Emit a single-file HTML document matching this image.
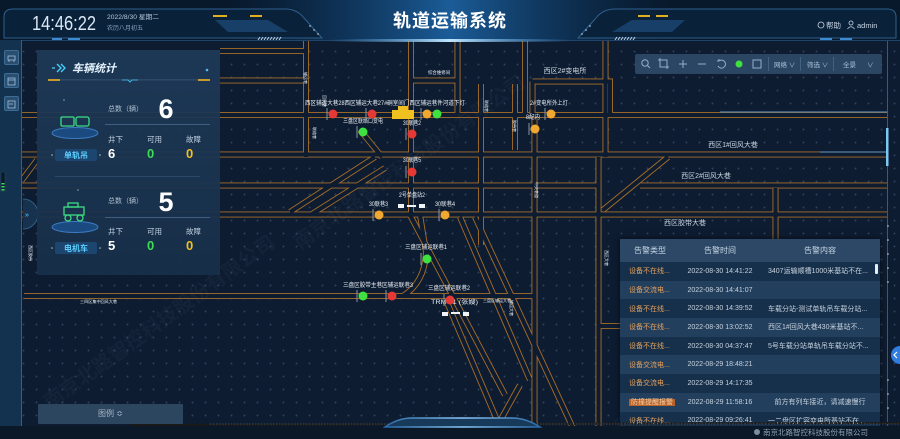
<!DOCTYPE html>
<html><head><meta charset="utf-8">
<style>
*{margin:0;padding:0;box-sizing:border-box}
html,body{width:900px;height:439px;overflow:hidden;background:#0c1b2f}
body{position:relative;font-family:"Liberation Sans","Noto Sans CJK SC",sans-serif;color:#fff}
.abs{position:absolute}
#map{left:0;top:0;width:900px;height:439px;background-color:#0d1c31;background-image:radial-gradient(circle,rgba(110,140,170,.35) .7px,transparent 1.2px);background-size:13px 13px;background-position:4px 6px}
#side{left:0;top:40px;width:22px;height:399px;background:#12324f;border-right:1px solid #2f6090}
.sb{position:absolute;left:4px;width:15px;height:15px;background:#2b4d6e;border:1px solid #3d6c94;border-radius:2px}
#panel{left:37px;top:50px;width:183px;height:225px;background:linear-gradient(180deg,rgba(30,58,88,.93),rgba(23,47,73,.93))}
#tb{left:635px;top:54px;width:247px;height:20px;background:rgba(48,78,108,.85);border-radius:2px}
#tbl{left:620px;top:239px;width:260px;height:187px;overflow:hidden;background:#16304c;box-shadow:0 0 6px rgba(0,0,0,.6)}
#tbl table{border-collapse:collapse;width:260px;table-layout:fixed}
#tbl th{height:23px;background:#2c4866;color:#c9d8e8;font-size:8px;font-weight:normal}
#tbl td{height:18.7px;font-size:7px;color:#c8d2dc;white-space:nowrap;overflow:hidden}
#tbl tr.l td{background:#223f5e}
#tbl tr.d td{background:#16304c}
#tbl td.c1{color:#e8a25c;padding-left:9px}
#tbl td.c2{text-align:center}
#tbl td.c3{padding-left:8px}
#legend{left:38px;top:404px;width:145px;height:20px;background:#2b465e;color:#a8b8c8;font-size:8px;text-align:center;line-height:20px;border-radius:1px}
</style></head>
<body>
<div id="map" class="abs"></div>

<!-- roads -->
<svg class="abs" style="left:0;top:0" width="900" height="439">
<defs>
<g id="rd" fill="none">
<path d="M22,115H887"/>
<path d="M22,154.5H887"/>
<path d="M22,185.5H600M640,185.5H887"/>
<path d="M22,214.5H887"/>
<path d="M24,296H533"/>
<path d="M220,51H306"/>
<path d="M220,80.5H306"/>
<path d="M411,80.5H457.5"/>
<path d="M532.5,81.5H610V115M532.5,81.5V115"/>
<path d="M306,40V157"/>
<path d="M411,40V215"/>
<path d="M457.5,40V115"/>
<path d="M481,84V245"/>
<path d="M515,84V150"/>
<path d="M525,40V115"/>
<path d="M534.5,118V439"/>
<path d="M605.5,40V157"/>
<path d="M598.5,157V439"/>
<path d="M775.5,188V240"/>
<path d="M603,210L668,157"/>
<path d="M375,157L290,212"/>
<path d="M385,168L312,214"/>
<path d="M360,130L382,157"/>
<path d="M420,215L426,252Q425,282 403,296"/>
<path d="M410,215L505,395"/>
<path d="M460,217L530,380"/>
<path d="M475,217L578,439"/>
<path d="M446,300L505,439"/>
<path d="M520,385L490,439"/>
<path d="M598,326H620"/>
<path d="M22,180L37,160"/>
</g>
</defs>
<use href="#rd" stroke="#a96e28" stroke-width="6"/>
<use href="#rd" stroke="#0d1c31" stroke-width="4.2"/>
<path d="M720,112H887M820,152H887" stroke="#6a9ac0" stroke-width="1"/>
<line x1="887.5" y1="40" x2="887.5" y2="439" stroke="#3a5a78" stroke-width="1"/>
<rect x="886" y="128" width="2.5" height="38" fill="#7cc8f0"/>
<g fill="#c8d6e4"><circle cx="888" cy="226" r=".8"/><circle cx="888" cy="240" r=".8"/><circle cx="888" cy="254" r=".8"/><circle cx="888" cy="268" r=".8"/><circle cx="888" cy="282" r=".8"/><circle cx="888" cy="380" r=".8"/><circle cx="888" cy="394" r=".8"/><circle cx="888" cy="408" r=".8"/></g>

<!-- watermarks -->
<g fill="rgba(150,170,195,0.05)" font-size="20" font-weight="bold" font-family="Liberation Sans,Noto Sans CJK SC,sans-serif">
<text x="50" y="410" transform="rotate(-36 50 410)">南京北路智控科技股份有限公司</text>
<text x="300" y="250" transform="rotate(-36 300 250)">南京北路智控科技股份有限公司</text>
<text x="620" y="435" transform="rotate(-30 620 435)">南京北路智控科技股份有限公司</text>
</g>

<!-- map labels -->
<g fill="#e8eef5" font-family="Liberation Sans,Noto Sans CJK SC,sans-serif" font-size="6">
<text x="565" y="73" text-anchor="middle" font-size="7" fill="#d0dae4">西区2#变电所</text>
<text x="428" y="74" font-size="4.5" textLength="22" lengthAdjust="spacingAndGlyphs">综合维修间</text>
<text x="305" y="105" textLength="160" lengthAdjust="spacingAndGlyphs">西区辅运大巷28西区辅运大巷27#硐室间门西区辅运巷件河道下灯</text>
<text x="530" y="105" textLength="38" lengthAdjust="spacingAndGlyphs">2#变电所外上灯</text>
<text x="343" y="123" textLength="40" lengthAdjust="spacingAndGlyphs">三盘区联络口变电</text>
<text x="403" y="125" textLength="18" lengthAdjust="spacingAndGlyphs">30联巷2</text>
<text x="526" y="119" textLength="14" lengthAdjust="spacingAndGlyphs">8配内</text>
<text x="403" y="162" textLength="18" lengthAdjust="spacingAndGlyphs">30联巷5</text>
<text x="399" y="197" textLength="26" lengthAdjust="spacingAndGlyphs">2号单盘站2</text>
<text x="369" y="206" textLength="19" lengthAdjust="spacingAndGlyphs">30联巷3</text>
<text x="435" y="206" textLength="20" lengthAdjust="spacingAndGlyphs">30联巷4</text>
<text x="405" y="249" textLength="42" lengthAdjust="spacingAndGlyphs">三盘区辅运联巷1</text>
<text x="343" y="287" textLength="70" lengthAdjust="spacingAndGlyphs">三盘区胶带主巷区辅运联巷3</text>
<text x="428" y="290" textLength="42" lengthAdjust="spacingAndGlyphs">三盘区辅运联巷2</text>
<text x="431" y="304" textLength="47" lengthAdjust="spacingAndGlyphs">TRM4.1   (张嫂)</text>
<text x="483" y="302" font-size="4" textLength="28" lengthAdjust="spacingAndGlyphs">三盘区辅运大巷</text>
<text x="80" y="303" font-size="4" textLength="37" lengthAdjust="spacingAndGlyphs">三四区集中回风大巷</text>
<text x="733" y="147" text-anchor="middle" font-size="7" fill="#c8d4e0">西区1#回风大巷</text>
<text x="706" y="178" text-anchor="middle" font-size="7" fill="#c8d4e0">西区2#回风大巷</text>
<text x="685" y="225" text-anchor="middle" font-size="7" fill="#c8d4e0">西区胶带大巷</text>
<g font-size="4">
<text transform="translate(304,72) rotate(90)">辅运巷</text>
<text transform="translate(323,95) rotate(90)">回风巷</text>
<text transform="translate(313,127) rotate(90)">联络巷</text>
<text transform="translate(513,120) rotate(90)">胶带巷</text>
<text transform="translate(535,182) rotate(90)">中央巷道</text>
<text transform="translate(485,100) rotate(90)">联络巷</text>
<text transform="translate(605,250) rotate(90)">西区大巷</text>
<text transform="translate(510,300) rotate(90)">辅运大巷</text>
<text transform="translate(29,245) rotate(90)">西区胶带</text>
</g>
</g>

<!-- poles -->
<g stroke="#8a96a4" stroke-width="1">
<path d="M327,108V120M366,108V120M421,108V120M545,108V120M357,126V138M406,128V140M529,123V135M406,166V178M373,209V221M439,209V221M421,253V265M357,290V302M386,290V302M444,294V306"/>
</g>
<!-- vehicle -->
<rect x="392" y="110" width="22" height="9" fill="#f0c020"/>
<rect x="398" y="106" width="10" height="5" fill="#f0c020"/>
<!-- lights -->
<g>
<circle cx="333" cy="114" r="4.5" fill="#e53935"/>
<circle cx="372" cy="114" r="4.5" fill="#e53935"/>
<circle cx="427" cy="114" r="4.5" fill="#f0a830"/>
<circle cx="437" cy="114" r="4.5" fill="#3fe040"/>
<circle cx="551" cy="114" r="4.5" fill="#f0a830"/>
<circle cx="363" cy="132" r="4.5" fill="#3fe040"/>
<circle cx="412" cy="134" r="4.5" fill="#e53935"/>
<circle cx="535" cy="129" r="4.5" fill="#f0a830"/>
<circle cx="412" cy="172" r="4.5" fill="#e53935"/>
<circle cx="379" cy="215" r="4.5" fill="#f0a830"/>
<circle cx="445" cy="215" r="4.5" fill="#f0a830"/>
<circle cx="427" cy="259" r="4.5" fill="#3fe040"/>
<circle cx="363" cy="296" r="4.5" fill="#3fe040"/>
<circle cx="392" cy="296" r="4.5" fill="#e53935"/>
<circle cx="450" cy="300" r="4.5" fill="#e53935"/>
</g>
<g fill="#f0f4f8">
<rect x="398" y="204" width="6" height="4"/><rect x="407" y="205" width="9" height="2"/><rect x="419" y="204" width="6" height="4"/>
<rect x="442" y="312" width="6" height="4"/><rect x="451" y="312" width="9" height="2"/><rect x="463" y="312" width="6" height="4"/>
</g>
</svg>

<!-- header -->
<svg class="abs" style="left:0;top:0" width="900" height="44">
<defs>
<linearGradient id="hc" x1="0" x2="1"><stop offset="0" stop-color="#0f3a66" stop-opacity="0"/><stop offset=".5" stop-color="#1b5c98"/><stop offset="1" stop-color="#0f3a66" stop-opacity="0"/></linearGradient>
<linearGradient id="gl" x1="0" x2="1"><stop offset="0" stop-color="#4aa8f0" stop-opacity="0"/><stop offset=".5" stop-color="#bfe6ff"/><stop offset="1" stop-color="#4aa8f0" stop-opacity="0"/></linearGradient>
</defs>
<rect width="900" height="41" fill="#08192c"/>
<rect x="230" y="0" width="440" height="41" fill="url(#hc)"/>
<path d="M4,38 L4,17 Q4,9 13,9 L285,9 Q297,9 304,18 L322,38 Z" fill="#0a213a" stroke="#2f5f8c"/>
<path d="M896,38 L896,17 Q896,9 887,9 L615,9 Q603,9 596,18 L578,38 Z" fill="#0a213a" stroke="#2f5f8c"/>
<path d="M215,20 L268,20 L288,32 L228,32 Z" fill="#173f68"/>
<path d="M685,20 L632,20 L612,32 L672,32 Z" fill="#173f68"/>
<rect x="213" y="15" width="14" height="2" fill="#e0b020"/><rect x="250" y="15" width="12" height="2" fill="#e0b020"/>
<rect x="638" y="15" width="12" height="2" fill="#e0b020"/><rect x="656" y="15" width="12" height="2" fill="#e0b020"/>
<g fill="#c8dcf0"><circle cx="310" cy="26" r=".8"/><circle cx="314" cy="30" r=".8"/><circle cx="318" cy="34" r=".8"/><circle cx="590" cy="26" r=".8"/><circle cx="586" cy="30" r=".8"/><circle cx="582" cy="34" r=".8"/></g>
<g stroke="#c0d4e8" stroke-width="1"><path d="M258,40l2,-3M261,40l2,-3M264,40l2,-3M267,40l2,-3M270,40l2,-3M273,40l2,-3M276,40l2,-3M279,40l2,-3M615,40l2,-3M618,40l2,-3M621,40l2,-3M624,40l2,-3M627,40l2,-3M630,40l2,-3M633,40l2,-3"/></g>
<rect x="52" y="38" width="10" height="2" fill="#3d8ad0"/><rect x="68" y="38" width="12" height="2" fill="#3d8ad0"/>
<rect x="820" y="38" width="12" height="2" fill="#3d8ad0"/><rect x="840" y="38" width="12" height="2" fill="#3d8ad0"/>
<rect x="0" y="40" width="900" height="1" fill="#21446a"/>
<rect x="330" y="39" width="240" height="3" fill="url(#gl)"/>
<text x="32" y="30" font-size="20" fill="#dbe8f5" font-family="Liberation Sans,sans-serif" textLength="64" lengthAdjust="spacingAndGlyphs">14:46:22</text>
<text x="107" y="19" font-size="6.5" fill="#b8c8d8" font-family="Liberation Sans,Noto Sans CJK SC,sans-serif" textLength="52" lengthAdjust="spacingAndGlyphs">2022/8/30 星期二</text>
<text x="107" y="30" font-size="6" fill="#8aa4bc" font-family="Liberation Sans,Noto Sans CJK SC,sans-serif">农历八月初五</text>
<text x="450" y="27" text-anchor="middle" font-size="18" font-weight="bold" fill="#ffffff" letter-spacing="1" font-family="Liberation Sans,Noto Sans CJK SC,sans-serif">轨道运输系统</text>
<circle cx="821" cy="25" r="3" fill="none" stroke="#c8d6e4" stroke-width=".8"/>
<text x="826" y="28" font-size="7.5" fill="#c8d6e4" font-family="Liberation Sans,Noto Sans CJK SC,sans-serif">帮助</text>
<circle cx="851" cy="23" r="2" fill="none" stroke="#c8d6e4" stroke-width=".8"/>
<path d="M847.5,29 Q851,24.5 854.5,29" fill="none" stroke="#c8d6e4" stroke-width=".8"/>
<text x="857" y="28" font-size="7.5" fill="#c8d6e4" font-family="Liberation Sans,sans-serif">admin</text>
</svg>

<!-- sidebar -->
<div id="side" class="abs">
<div class="sb" style="top:10px"></div>
<div class="sb" style="top:33px"></div>
<div class="sb" style="top:56px"></div>
</div>
<svg class="abs" style="left:0;top:0" width="40" height="280">
<g fill="none" stroke="#9fc4e4" stroke-width=".8">
<path d="M8,56h7v4h-7zM9,60v2M14,60v2"/>
<path d="M8,78h7v7h-7zM8,80h7"/>
<path d="M8,101h7v7h-7zM9,104h4"/>
</g>
<rect x="1" y="172" width="4" height="19" fill="#0a1a2a" stroke="#2a4a60" stroke-width=".5"/>
<rect x="1.5" y="183" width="3" height="1.5" fill="#3ddc54"/><rect x="1.5" y="186" width="3" height="1.5" fill="#3ddc54"/><rect x="1.5" y="189" width="3" height="1.5" fill="#3ddc54"/>
<path d="M23,199 A15,15 0 0 1 23,229" fill="#16324e" stroke="#2f5f88"/>
<text x="25" y="217" font-size="7" fill="#5ad0ff">»</text>
</svg>

<!-- left panel -->
<div id="panel" class="abs"></div>
<svg class="abs" style="left:0;top:0" width="230" height="280" font-family="Liberation Sans,Noto Sans CJK SC,sans-serif">
<path d="M52,68h3M57,64l4,4l-4,4M61,64l4,4l-4,4" fill="none" stroke="#4ad0ff" stroke-width="1.3"/>
<text x="72" y="72" font-size="11" font-weight="bold" font-style="italic" fill="#e6f3ff">车辆统计</text>
<circle cx="207" cy="70" r="1.3" fill="#5ab8f0"/>
<rect x="48" y="79.5" width="162" height=".8" fill="#3a5a7a"/>
<rect x="48" y="79" width="12" height="2" fill="#c89a2a"/>
<rect x="198" y="79" width="12" height="2" fill="#c89a2a"/>
<path d="M122,80h6l2,2l2,-2h6" stroke="#4ad0ff" fill="none" stroke-width=".8"/>

<!-- vehicle 1 -->
<ellipse cx="75" cy="133" rx="23" ry="5.5" fill="#1b4a80" stroke="#3d7cc4" stroke-width="1"/>
<g fill="none" stroke="#3ddc84" stroke-width="1.3">
<rect x="61" y="117" width="13" height="9" rx="1"/><rect x="76" y="117" width="13" height="9" rx="2"/>
</g>
<circle cx="64" cy="100" r=".8" fill="#8aa"/>
<rect x="55" y="149" width="42" height="12" fill="#1c4570" rx="2"/>
<text x="76" y="158" text-anchor="middle" font-size="8" font-weight="bold" fill="#5ad0ff">单轨吊</text>
<circle cx="52" cy="155" r=".8" fill="#9cc"/><circle cx="100" cy="155" r=".8" fill="#9cc"/>
<text x="108" y="111" font-size="7" fill="#b0c0d0">总数（辆）</text>
<text x="166" y="118" text-anchor="middle" font-size="27" font-weight="bold" fill="#ffffff">6</text>
<rect x="105" y="124" width="105" height=".8" fill="#4a6a8a"/>
<text x="108" y="142" font-size="7.5" fill="#c0d0e0">井下</text>
<text x="147" y="142" font-size="7.5" fill="#c0d0e0">可用</text>
<text x="186" y="142" font-size="7.5" fill="#c0d0e0">故障</text>
<text x="108" y="158" font-size="13" font-weight="bold" fill="#ffffff">6</text>
<text x="147" y="158" font-size="13" font-weight="bold" fill="#3ddc54">0</text>
<text x="186" y="158" font-size="13" font-weight="bold" fill="#f0c020">0</text>
<rect x="55" y="176" width="145" height=".8" fill="#2f4f70"/>

<!-- vehicle 2 -->
<ellipse cx="75" cy="227" rx="23" ry="5.5" fill="#1b4a80" stroke="#3d7cc4" stroke-width="1"/>
<g fill="none" stroke="#3ddc84" stroke-width="1.3">
<rect x="64" y="207" width="20" height="8"/><rect x="68" y="203" width="10" height="4"/>
<circle cx="68" cy="218" r="3"/><circle cx="80" cy="218" r="3"/>
</g>
<circle cx="78" cy="190" r=".8" fill="#8aa"/>
<rect x="55" y="242" width="42" height="12" fill="#1c4570" rx="2"/>
<text x="76" y="251" text-anchor="middle" font-size="8" font-weight="bold" fill="#5ad0ff">电机车</text>
<circle cx="52" cy="248" r=".8" fill="#9cc"/><circle cx="100" cy="248" r=".8" fill="#9cc"/>
<text x="108" y="203" font-size="7" fill="#b0c0d0">总数（辆）</text>
<text x="166" y="211" text-anchor="middle" font-size="27" font-weight="bold" fill="#ffffff">5</text>
<rect x="105" y="217" width="105" height=".8" fill="#4a6a8a"/>
<text x="108" y="234" font-size="7.5" fill="#c0d0e0">井下</text>
<text x="147" y="234" font-size="7.5" fill="#c0d0e0">可用</text>
<text x="186" y="234" font-size="7.5" fill="#c0d0e0">故障</text>
<text x="108" y="250" font-size="13" font-weight="bold" fill="#ffffff">5</text>
<text x="147" y="250" font-size="13" font-weight="bold" fill="#3ddc54">0</text>
<text x="186" y="250" font-size="13" font-weight="bold" fill="#f0c020">0</text>
</svg>

<!-- toolbar -->
<div id="tb" class="abs"></div>
<svg class="abs" style="left:635px;top:54px" width="247" height="20" font-family="Liberation Sans,Noto Sans CJK SC,sans-serif">
<g fill="none" stroke="#8fb0d0" stroke-width="1">
<circle cx="10" cy="9" r="3.2"/><path d="M12.5,11.5l2.5,2.5"/>
<rect x="25" y="6" width="7" height="7"/><path d="M23,6h2M32,13h2M25,4v2M32,13v2"/>
<path d="M44,10h8M48,6v8"/>
<path d="M63,10h8"/>
<path d="M84,7a4,4 0 1 1 -1,5M84,7v-2M84,7h-2"/>
<rect x="118" y="6" width="8" height="8"/>
</g>
<circle cx="104" cy="10" r="3.5" fill="#3fe040"/>
<rect x="133" y="3" width=".8" height="14" fill="#4a6a8a"/>
<rect x="165" y="3" width=".8" height="14" fill="#4a6a8a"/>
<rect x="198" y="3" width=".8" height="14" fill="#4a6a8a"/>
<text x="139" y="13" font-size="6.5" fill="#a8c0d8">网络 ∨</text>
<text x="172" y="13" font-size="6.5" fill="#a8c0d8">筛选 ∨</text>
<text x="208" y="13" font-size="6.5" fill="#a8c0d8">全景</text>
<text x="232" y="13" font-size="6.5" fill="#a8c0d8">∨</text>
</svg>

<!-- table -->
<div id="tbl" class="abs">
<table>
<colgroup><col style="width:60px"><col style="width:80px"><col style="width:120px"></colgroup>
<tr><th>告警类型</th><th>告警时间</th><th>告警内容</th></tr>
<tr class="d"><td class="c1">设备不在线...</td><td class="c2">2022-08-30 14:41:22</td><td class="c3">3407运输顺槽1000米基站不在...</td></tr>
<tr class="l"><td class="c1">设备交流电...</td><td class="c2">2022-08-30 14:41:07</td><td class="c3"></td></tr>
<tr class="d"><td class="c1">设备不在线...</td><td class="c2">2022-08-30 14:39:52</td><td class="c3">车载分站-测试单轨吊车载分站...</td></tr>
<tr class="l"><td class="c1">设备不在线...</td><td class="c2">2022-08-30 13:02:52</td><td class="c3">西区1#回风大巷430米基站不...</td></tr>
<tr class="d"><td class="c1">设备不在线...</td><td class="c2">2022-08-30 04:37:47</td><td class="c3">5号车载分站单轨吊车载分站不...</td></tr>
<tr class="l"><td class="c1">设备交流电...</td><td class="c2">2022-08-29 18:48:21</td><td class="c3"></td></tr>
<tr class="d"><td class="c1">设备交流电...</td><td class="c2">2022-08-29 14:17:35</td><td class="c3"></td></tr>
<tr class="l"><td class="c1"><span style="background:#b8622a;color:#f5d0a8;padding:0 2px">防撞提醒报警</span></td><td class="c2">2022-08-29 11:58:16</td><td class="c3" style="text-align:center;padding-left:0">前方有列车接近，请减速慢行</td></tr>
<tr class="d"><td class="c1">设备不在线...</td><td class="c2">2022-08-29 09:26:41</td><td class="c3">一二盘区扩容变电所基站不在...</td></tr>
</table>
<div class="abs" style="left:255px;top:25px;width:3px;height:10px;background:#e8eef4;border-radius:1px"></div>
</div>

<!-- right tab -->
<svg class="abs" style="left:888px;top:346px" width="12" height="18">
<path d="M12,0 A9,9 0 0 0 12,18 Z" fill="#2f7de0"/>
<path d="M9,6l-3,3l3,3" fill="none" stroke="#fff" stroke-width="1.2"/>
</svg>

<!-- bottom -->
<svg class="abs" style="left:0;top:412px" width="900" height="27">
<defs><linearGradient id="bt" x1="0" x2="1"><stop offset="0" stop-color="#2a6aa8"/><stop offset=".5" stop-color="#8cc8f8"/><stop offset="1" stop-color="#2a6aa8"/></linearGradient></defs>
<rect x="0" y="14" width="900" height="13" fill="#0a1828"/>
<path d="M130,13 L900,11" stroke="#1a1a1a" stroke-width="2" stroke-dasharray="3,1"/>
<path d="M210,12H900" stroke="#6a7a8a" stroke-width=".6" stroke-dasharray="1.5,1.5"/>
<path d="M385,15 Q398,6 412,6 L512,6 Q526,6 540,15 Z" fill="#173a5a" stroke="url(#bt)" stroke-width="1.5"/>
<circle cx="757" cy="20" r="3" fill="#7a8ea0"/>
<text x="763" y="23" font-size="7.5" fill="#8fa3b5" font-family="Liberation Sans,Noto Sans CJK SC,sans-serif">南京北路智控科技股份有限公司</text>
</svg>
<div id="legend" class="abs">图例 ≎</div>
</body></html>
